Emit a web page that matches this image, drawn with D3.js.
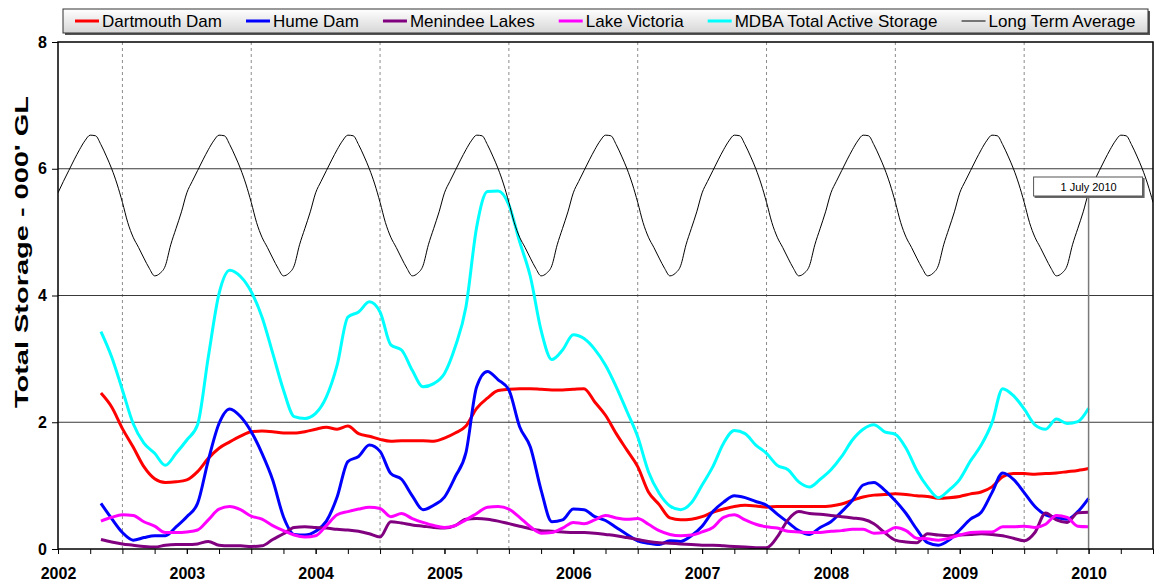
<!DOCTYPE html>
<html>
<head>
<meta charset="utf-8">
<script src="https://cdn.jsdelivr.net/npm/d3@7/dist/d3.min.js"></script>
<style>
  body { margin: 0; background: #fff; }
  svg { display: block; font-family: "Liberation Sans", Arial, sans-serif; }
</style>
</head>
<body>
<svg id="chart" width="1155" height="583"></svg>
<script>
const width = 1155;
const height = 583;
const margin = { left: 58, right: 2, top: 42, bottom: 34 };

// storage readings, one per month, first reading is May 2002 (in axis years)
const firstMonth = 4;
const dartmouth = [2.46, 2.24, 1.90, 1.61, 1.30, 1.11, 1.05, 1.06, 1.09, 1.22, 1.43, 1.59, 1.69, 1.78, 1.85, 1.86, 1.85, 1.83, 1.83, 1.85, 1.89, 1.92, 1.89, 1.94, 1.82, 1.78, 1.73, 1.70, 1.71, 1.71, 1.71, 1.70, 1.75, 1.83, 1.94, 2.22, 2.38, 2.50, 2.52, 2.53, 2.53, 2.52, 2.51, 2.51, 2.52, 2.53, 2.32, 2.11, 1.82, 1.56, 1.30, 0.90, 0.70, 0.49, 0.46, 0.47, 0.51, 0.58, 0.63, 0.67, 0.69, 0.68, 0.66, 0.67, 0.67, 0.67, 0.67, 0.67, 0.68, 0.71, 0.77, 0.82, 0.85, 0.86, 0.87, 0.86, 0.84, 0.83, 0.80, 0.81, 0.83, 0.87, 0.90, 0.98, 1.14, 1.19, 1.19, 1.18, 1.19, 1.20, 1.22, 1.24, 1.27];
const hume = [0.72, 0.48, 0.26, 0.14, 0.18, 0.21, 0.21, 0.35, 0.51, 0.72, 1.40, 1.98, 2.21, 2.09, 1.85, 1.51, 1.09, 0.51, 0.23, 0.22, 0.28, 0.44, 0.82, 1.38, 1.46, 1.64, 1.54, 1.19, 1.10, 0.84, 0.62, 0.69, 0.82, 1.14, 1.52, 2.56, 2.80, 2.67, 2.51, 1.93, 1.61, 0.93, 0.43, 0.46, 0.63, 0.62, 0.51, 0.45, 0.34, 0.23, 0.13, 0.09, 0.07, 0.13, 0.12, 0.21, 0.36, 0.59, 0.74, 0.84, 0.81, 0.75, 0.69, 0.55, 0.42, 0.29, 0.23, 0.34, 0.43, 0.59, 0.77, 1.01, 1.05, 0.93, 0.76, 0.56, 0.31, 0.10, 0.06, 0.14, 0.30, 0.47, 0.58, 0.89, 1.20, 1.10, 0.89, 0.67, 0.54, 0.50, 0.47, 0.59, 0.80];
const menindee = [0.15, 0.11, 0.08, 0.06, 0.04, 0.03, 0.06, 0.07, 0.07, 0.08, 0.12, 0.06, 0.05, 0.05, 0.04, 0.05, 0.15, 0.24, 0.34, 0.35, 0.34, 0.33, 0.31, 0.30, 0.28, 0.24, 0.19, 0.43, 0.41, 0.38, 0.36, 0.34, 0.33, 0.37, 0.47, 0.48, 0.47, 0.44, 0.40, 0.36, 0.32, 0.29, 0.28, 0.27, 0.26, 0.26, 0.25, 0.23, 0.21, 0.18, 0.15, 0.12, 0.10, 0.09, 0.08, 0.07, 0.06, 0.06, 0.05, 0.04, 0.03, 0.02, 0.02, 0.19, 0.46, 0.59, 0.56, 0.55, 0.53, 0.51, 0.49, 0.47, 0.40, 0.26, 0.14, 0.11, 0.10, 0.24, 0.22, 0.21, 0.22, 0.23, 0.24, 0.23, 0.21, 0.17, 0.13, 0.26, 0.57, 0.46, 0.42, 0.57, 0.58];
const victoria = [0.44, 0.50, 0.54, 0.53, 0.43, 0.36, 0.26, 0.26, 0.27, 0.30, 0.46, 0.63, 0.67, 0.62, 0.52, 0.47, 0.37, 0.29, 0.22, 0.19, 0.21, 0.37, 0.54, 0.59, 0.63, 0.66, 0.64, 0.51, 0.56, 0.48, 0.42, 0.37, 0.34, 0.37, 0.46, 0.56, 0.66, 0.67, 0.63, 0.50, 0.35, 0.25, 0.26, 0.33, 0.42, 0.40, 0.46, 0.53, 0.49, 0.47, 0.48, 0.39, 0.29, 0.23, 0.21, 0.22, 0.27, 0.34, 0.50, 0.54, 0.46, 0.39, 0.35, 0.33, 0.28, 0.27, 0.26, 0.26, 0.28, 0.29, 0.31, 0.31, 0.25, 0.26, 0.34, 0.29, 0.17, 0.16, 0.14, 0.17, 0.22, 0.26, 0.27, 0.27, 0.35, 0.35, 0.36, 0.34, 0.39, 0.53, 0.50, 0.36, 0.35];
const mdbaTotal = [3.43, 3.03, 2.51, 1.98, 1.67, 1.51, 1.32, 1.51, 1.72, 1.96, 3.03, 4.03, 4.40, 4.30, 4.06, 3.66, 3.09, 2.51, 2.09, 2.06, 2.14, 2.40, 2.90, 3.66, 3.74, 3.90, 3.74, 3.22, 3.14, 2.82, 2.56, 2.61, 2.77, 3.19, 3.82, 5.08, 5.64, 5.65, 5.43, 4.85, 4.30, 3.45, 2.99, 3.14, 3.38, 3.32, 3.15, 2.90, 2.56, 2.17, 1.77, 1.22, 0.88, 0.68, 0.62, 0.73, 1.01, 1.30, 1.67, 1.87, 1.82, 1.64, 1.51, 1.32, 1.25, 1.06, 0.98, 1.10, 1.25, 1.46, 1.72, 1.89, 1.96, 1.85, 1.81, 1.59, 1.24, 0.98, 0.81, 0.93, 1.10, 1.39, 1.64, 1.99, 2.53, 2.42, 2.21, 1.96, 1.89, 2.05, 1.98, 2.01, 2.22];
// long term average, one year, two readings per month
const longTermAvg = [5.62, 5.80, 5.97, 6.14, 6.30, 6.44, 6.53, 6.52, 6.38, 6.20, 6.00, 5.76, 5.47, 5.15, 4.92, 4.76, 4.59, 4.43, 4.31, 4.35, 4.47, 4.80, 5.06, 5.32];

const seriesNames = ["Dartmouth Dam", "Hume Dam", "Menindee Lakes", "Lake Victoria", "MDBA Total Active Storage", "Long Term Average"];
const seriesColors = ["#ff0000", "#0000ff", "#800080", "#ff00ff", "#00ffff", "#000000"];
const yTicks = [0, 2, 4, 6, 8];
const yearTicks = [2002, 2003, 2004, 2005, 2006, 2007, 2008, 2009, 2010];
const markerYear = 2010;
const markerLabel = "1 July 2010";

const svg = d3.select('#chart');

const x = d3.scaleLinear().domain([2002, 2010.5]).range([margin.left, width - margin.right]);
const y = d3.scaleLinear().domain([0, 8]).range([height - margin.bottom, margin.top]);

const monthly = vals => vals.map((v, i) => [2002 + (firstMonth + i) / 12, v]);
const ltaPoints = [];
for (let yr = 2002; yr <= 2010; yr++) {
    longTermAvg.forEach((v, i) => {
        const t = yr + i / 24;
        if (t <= 2010.5) ltaPoints.push([t, v]);
    });
}

svg.append('defs').append('clipPath').attr('id', 'plot-clip')
    .append('rect')
    .attr('x', margin.left).attr('y', margin.top)
    .attr('width', width - margin.left - margin.right)
    .attr('height', height - margin.top - margin.bottom);

// half-year dashed lines
svg.append('g').selectAll('line')
    .data(yearTicks.slice(0, -1).map(d => d + 0.5))
    .join('line')
    .attr('x1', d => x(d)).attr('x2', d => x(d))
    .attr('y1', y(8)).attr('y2', y(0))
    .attr('stroke', '#8c8c8c')
    .attr('stroke-dasharray', '3,3');

// horizontal grid
svg.append('g').selectAll('line')
    .data([2, 4, 6])
    .join('line')
    .attr('x1', x(2002)).attr('x2', x(2010.5))
    .attr('y1', d => y(d)).attr('y2', d => y(d))
    .attr('stroke', '#3a3a3a');

const line = d3.line()
    .x(d => x(d[0]))
    .y(d => y(d[1]))
    .curve(d3.curveMonotoneX);

const lines = svg.append('g').attr('clip-path', 'url(#plot-clip)');
[dartmouth, hume, menindee, victoria, mdbaTotal].forEach((vals, i) => {
    lines.append('path')
        .attr('d', line(monthly(vals)))
        .attr('fill', 'none')
        .attr('stroke', seriesColors[i])
        .attr('stroke-width', 3)
        .attr('stroke-linejoin', 'round');
});
lines.append('path')
    .attr('d', line(ltaPoints))
    .attr('fill', 'none')
    .attr('stroke', '#000')
    .attr('stroke-width', 1);

// 1 July 2010 marker
svg.append('line')
    .attr('x1', x(markerYear)).attr('x2', x(markerYear))
    .attr('y1', 197).attr('y2', y(0))
    .attr('stroke', '#7a7a7a')
    .attr('stroke-width', 1.5);
svg.append('rect')
    .attr('x', x(markerYear) - 54).attr('y', 178)
    .attr('width', 110).attr('height', 20)
    .attr('fill', '#666');
svg.append('rect')
    .attr('x', x(markerYear) - 55).attr('y', 177)
    .attr('width', 109).attr('height', 19)
    .attr('fill', '#fff')
    .attr('stroke', '#555');
svg.append('text')
    .attr('x', x(markerYear)).attr('y', 190.5)
    .attr('text-anchor', 'middle')
    .style('font-size', '11px')
    .text(markerLabel);

// frame
svg.append('rect')
    .attr('x', x(2002)).attr('y', y(8))
    .attr('width', x(2010.5) - x(2002))
    .attr('height', y(0) - y(8))
    .attr('fill', 'none')
    .attr('stroke', '#000')
    .attr('stroke-width', 1.5);

// axes
const yAxis = svg.append('g')
    .attr('transform', `translate(${margin.left},0)`)
    .call(d3.axisLeft(y).tickValues(yTicks).tickSize(6).tickPadding(5).tickFormat(d3.format('d')));
yAxis.select('.domain').remove();
yAxis.selectAll('text').style('font-size', '16px').style('font-weight', 'bold').attr('fill', '#000');

const xMinor = svg.append('g')
    .attr('transform', `translate(0,${y(0)})`)
    .call(d3.axisBottom(x).tickValues(d3.range(2002, 2010.51, 0.25)).tickSize(5).tickFormat(''));
xMinor.select('.domain').remove();

const xAxis = svg.append('g')
    .attr('transform', `translate(0,${y(0)})`)
    .call(d3.axisBottom(x).tickValues(yearTicks).tickSize(5).tickPadding(14).tickFormat(d3.format('d')));
xAxis.select('.domain').remove();
xAxis.selectAll('text').style('font-size', '16px').style('font-weight', 'bold').attr('fill', '#000');

svg.append('text')
    .attr('transform', 'translate(28,252) rotate(-90)')
    .attr('text-anchor', 'middle')
    .attr('textLength', 312)
    .attr('lengthAdjust', 'spacingAndGlyphs')
    .style('font-size', '19px')
    .style('font-weight', 'bold')
    .text("Total Storage - 000' GL");

// legend
const grad = svg.select('defs').append('linearGradient')
    .attr('id', 'legend-bg').attr('x1', 0).attr('y1', 0).attr('x2', 0).attr('y2', 1);
grad.append('stop').attr('offset', '0%').attr('stop-color', '#ffffff');
grad.append('stop').attr('offset', '100%').attr('stop-color', '#d6d6d6');

svg.append('rect')
    .attr('x', 65).attr('y', 11).attr('width', 1085).attr('height', 24)
    .attr('fill', '#555');
svg.append('rect')
    .attr('x', 63).attr('y', 9).attr('width', 1085).attr('height', 24)
    .attr('fill', 'url(#legend-bg)')
    .attr('stroke', '#333');

const legend = svg.append('g');
let lx = 75;
seriesNames.forEach((name, i) => {
    legend.append('line')
        .attr('x1', lx).attr('x2', lx + 24)
        .attr('y1', 21).attr('y2', 21)
        .attr('stroke', seriesColors[i])
        .attr('stroke-width', i === 5 ? 1 : 3);
    const t = legend.append('text')
        .attr('x', lx + 27).attr('y', 27)
        .style('font-size', '17px')
        .text(name);
    lx += 27 + t.node().getComputedTextLength() + 24;
});
</script>
</body>
</html>
